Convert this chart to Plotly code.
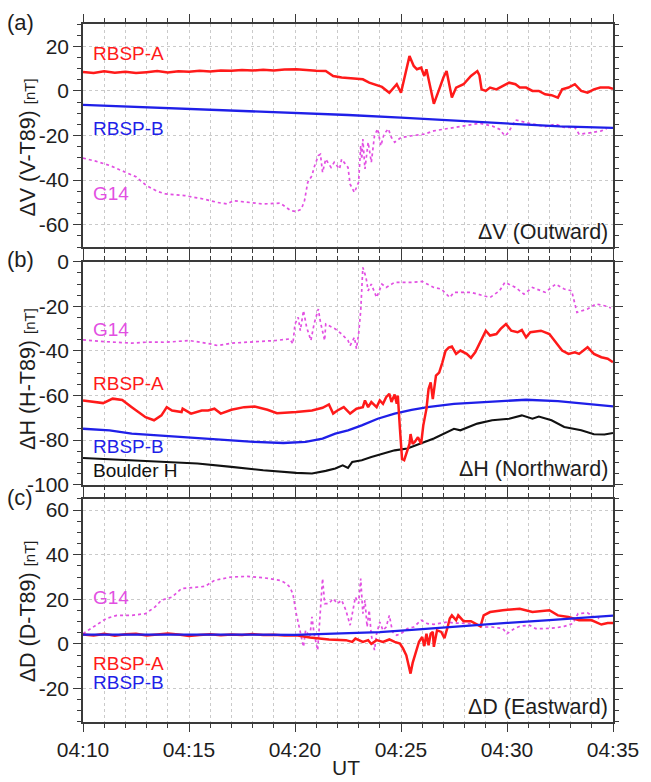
import pandas as pd
import plotly.graph_objects as go

# ---------------- data (minutes after 04:10 UT, nT) ----------------
BASE = "2013-03-17 04:10:00"

a_rbspa = [(0, 8.5), (0.5, 8.0), (1.0, 8.8), (1.5, 8.2), (2.0, 8.6), (2.5, 8.0), (3.0, 8.4), (3.5, 8.9),
           (4.0, 8.3), (4.5, 8.8), (5.0, 8.6), (5.5, 9.0), (6.0, 8.7), (6.5, 9.2), (7.0, 9.0), (7.5, 9.4),
           (8.0, 9.1), (8.5, 9.5), (9.0, 9.2), (9.5, 9.6), (10.06, 9.7), (10.5, 9.3), (11.0, 9.0),
           (11.45, 8.9), (11.8, 6.7), (12.2, 6.0), (12.6, 5.8), (13.2, 5.2), (13.5, 3.7), (14.1, 1.8),
           (14.45, -0.8), (14.8, 3.0), (15.0, -0.8), (15.25, 8.9), (15.4, 15.6), (15.6, 11.2),
           (15.75, 9.7), (15.95, 10.4), (16.1, 6.7), (16.2, 9.7), (16.4, 1.5), (16.55, -5.8),
           (16.8, 0.7), (17.0, 6.0), (17.15, 8.9), (17.25, 4.5), (17.4, -3.0), (17.6, 1.5),
           (17.95, 3.0), (18.3, 6.7), (18.6, 8.9), (18.7, 7.0), (18.8, 0.7), (19.0, 0.0), (19.2, 1.5),
           (19.5, 0.7), (19.8, 2.2), (20.1, 3.7), (20.4, 3.0), (20.6, 1.5), (20.9, 1.5), (21.2, 0.0),
           (21.5, 0.0), (21.8, -1.5), (22.1, -1.9), (22.4, -3.0), (22.6, 0.7), (22.9, 1.5), (23.2, 3.0),
           (23.5, 0.0), (23.8, -0.8), (24.1, 0.7), (24.4, 1.5), (24.8, 1.5), (25.0, 1.0)]

a_rbspb = [(0, -6.3), (2.5, -7.2), (5, -8.0), (7.5, -8.9), (10, -9.8), (12.5, -10.8), (15, -12.0),
           (17.5, -13.4), (20, -14.8), (22.5, -15.9), (25, -16.6)]

a_g14 = [(0, -30.1), (0.6, -31.5), (1.25, -33.4), (2.0, -36.5), (2.5, -38.5), (3.0, -42.5), (3.5, -45.0),
         (3.9, -46.2), (4.4, -46.5), (4.8, -46.9), (5.3, -47.8), (5.7, -48.5), (6.35, -50.0), (6.8, -50.7),
         (7.1, -49.2), (7.75, -50.0), (8.5, -50.7), (9.3, -50.3), (9.8, -53.7), (10.06, -54.1),
         (10.3, -53.0), (10.45, -49.1), (10.6, -41.0), (10.8, -38.0), (10.9, -34.3), (11.1, -29.0),
         (11.2, -28.4), (11.3, -36.5), (11.45, -30.6), (11.7, -34.3), (11.85, -32.0), (12.1, -35.0),
         (12.2, -30.6), (12.5, -34.3), (12.6, -41.8), (12.8, -45.5), (13.0, -41.0), (13.1, -24.6),
         (13.15, -30.6), (13.2, -21.6), (13.3, -35.0), (13.45, -23.0), (13.6, -32.0), (13.75, -20.0),
         (13.9, -17.0), (14.05, -24.6), (14.2, -19.4), (14.4, -17.0), (14.55, -20.9), (14.7, -23.0),
         (15.0, -20.9), (15.5, -20.1), (16.1, -19.4), (16.55, -17.9), (17.0, -17.2), (17.8, -15.7),
         (18.7, -14.5), (19.3, -15.7), (19.65, -17.2), (19.9, -20.1), (20.0, -19.4), (20.2, -16.4),
         (20.4, -13.0), (20.9, -14.2), (21.3, -14.9), (21.8, -16.0), (22.3, -14.9), (22.7, -16.4),
         (23.2, -16.4), (23.4, -19.4), (24.0, -18.7), (24.45, -17.9), (24.7, -16.9)]

b_g14 = [(0, -35.0), (1.0, -35.8), (2.3, -36.5), (3.1, -36.0), (3.9, -36.1), (5.0, -35.3), (6.0, -36.8),
         (6.35, -37.6), (7.0, -36.5), (7.75, -36.1), (8.5, -35.8), (9.1, -35.3), (9.75, -34.6),
         (9.9, -36.8), (10.0, -27.9), (10.15, -24.9), (10.25, -30.9), (10.4, -21.9), (10.55, -29.4),
         (10.75, -35.3), (10.9, -27.9), (11.1, -21.2), (11.2, -27.1), (11.4, -35.3), (11.45, -27.9),
         (11.9, -30.1), (12.2, -32.4), (12.5, -35.3), (12.6, -37.6), (12.8, -33.9), (12.9, -39.0),
         (13.0, -32.4), (13.1, -21.9), (13.15, -10.0), (13.2, -2.5), (13.35, -7.0), (13.45, -13.0),
         (13.6, -10.0), (13.85, -16.0), (14.1, -10.0), (14.3, -11.5), (14.7, -9.2), (15.5, -9.2),
         (16.0, -8.8), (16.55, -11.5), (16.9, -12.2), (17.3, -16.0), (17.5, -13.7), (18.3, -13.7),
         (19.2, -16.0), (19.65, -13.0), (19.9, -9.2), (20.1, -10.0), (20.4, -11.5), (20.8, -14.5),
         (21.2, -11.5), (21.8, -13.7), (22.3, -10.0), (22.7, -12.2), (23.05, -13.0), (23.3, -22.7),
         (23.8, -21.2), (24.2, -18.9), (24.6, -19.7), (24.9, -20.7)]

b_rbspa = [(0, -62.2), (0.5, -63.0), (0.95, -63.4), (1.4, -61.4), (1.85, -62.0), (2.3, -65.2), (2.95, -69.7),
           (3.35, -71.1), (3.7, -68.9), (3.95, -65.2), (4.2, -66.7), (4.65, -67.4), (4.7, -65.9),
           (5.1, -68.1), (5.6, -66.7), (5.9, -66.7), (6.2, -65.9), (6.5, -68.1), (7.0, -66.4), (7.6, -65.2),
           (8.1, -64.9), (8.7, -66.4), (9.15, -67.9), (10.06, -67.4), (10.8, -66.7), (11.3, -65.5),
           (11.6, -64.0), (11.8, -68.1), (12.0, -66.7), (12.3, -65.2), (12.6, -68.1), (12.9, -65.9),
           (13.2, -65.2), (13.3, -62.2), (13.45, -65.2), (13.6, -62.9), (13.85, -65.2), (14.0, -62.2),
           (14.15, -63.7), (14.3, -60.7), (14.45, -59.2), (14.55, -62.9), (14.7, -59.5), (14.8, -63.7),
           (14.85, -60.0), (14.95, -75.0), (15.05, -88.5), (15.15, -89.0), (15.3, -84.0), (15.4, -81.7),
           (15.45, -77.3), (15.55, -81.7), (15.65, -80.8), (15.8, -78.7), (15.95, -81.7), (16.05, -73.5),
           (16.2, -66.0), (16.3, -57.1), (16.4, -54.1), (16.5, -61.6), (16.65, -51.1), (16.8, -49.7),
           (16.95, -45.2), (17.1, -40.0), (17.25, -38.5), (17.4, -38.0), (17.6, -41.3), (17.8, -39.8),
           (18.1, -41.3), (18.3, -43.1), (18.5, -40.6), (18.7, -36.8), (19.0, -30.9), (19.2, -33.1),
           (19.5, -32.4), (19.7, -30.1), (19.95, -27.9), (20.2, -30.9), (20.5, -31.6), (20.7, -30.6),
           (20.9, -33.9), (21.1, -31.6), (21.6, -30.9), (22.0, -32.4), (22.3, -36.1), (22.6, -39.8),
           (22.9, -41.3), (23.2, -40.6), (23.4, -41.3), (23.8, -38.3), (24.1, -41.3), (24.45, -42.8),
           (24.75, -43.5), (25.0, -45.0)]

b_rbspb = [(0, -74.9), (1.25, -75.6), (2.3, -77.1), (3.9, -78.2), (5.4, -79.0), (7.0, -80.1), (8.05, -80.8),
           (9.45, -81.3), (10.5, -80.8), (11.3, -79.3), (11.9, -77.1), (12.5, -75.6), (13.15, -73.4),
           (13.9, -70.4), (14.7, -68.1), (15.5, -66.4), (16.25, -65.2), (17.5, -63.7), (19.3, -62.9),
           (20.9, -61.9), (22.4, -62.5), (24.0, -64.0), (25.0, -64.9)]

b_boulder = [(0, -88.0), (2.3, -89.0), (3.9, -89.8), (5.4, -90.5), (7.0, -92.0), (8.5, -93.5), (10.06, -94.7),
             (10.8, -95.0), (11.45, -93.8), (11.9, -92.7), (12.25, -91.3), (12.5, -92.5), (12.7, -89.8),
             (13.15, -89.0), (13.6, -87.6), (14.25, -85.8), (14.7, -84.6), (15.3, -83.8), (15.9, -81.6),
             (16.55, -79.3), (17.5, -74.9), (17.8, -75.6), (18.6, -72.6), (19.3, -71.1), (20.1, -70.4),
             (20.7, -68.9), (21.2, -70.4), (21.5, -69.4), (22.1, -71.1), (22.7, -74.1), (23.5, -75.6),
             (24.1, -77.4), (24.6, -77.5), (25.0, -76.8)]

c_rbspa = [(0, 4.2), (0.5, 3.8), (1.0, 4.5), (1.5, 3.7), (2.0, 4.3), (2.5, 4.6), (3.0, 3.8), (3.5, 4.1),
           (4.0, 4.7), (4.5, 4.2), (5.0, 3.6), (5.5, 4.0), (6.0, 4.3), (6.5, 3.9), (7.0, 4.2), (7.5, 4.0),
           (8.0, 4.4), (8.5, 4.0), (9.0, 4.1), (9.5, 3.8), (10.06, 3.9), (10.7, 2.9), (11.6, 2.0),
           (12.4, 1.7), (12.7, 0.9), (12.85, 2.4), (13.2, 0.9), (13.45, 1.7), (13.6, 0.0), (13.85, 1.7),
           (14.15, 0.9), (14.45, 2.0), (14.7, 0.9), (14.95, 0.2), (15.1, -2.1), (15.25, -5.1), (15.35, -9.5),
           (15.45, -13.3), (15.55, -8.5), (15.7, -3.5), (15.85, 1.0), (16.0, 3.1), (16.1, -1.0), (16.2, 4.6),
           (16.3, -0.6), (16.4, 4.6), (16.5, 5.4), (16.55, -1.3), (16.7, 6.1), (16.9, 5.4), (17.05, 2.6),
           (17.2, 7.6), (17.3, 11.4), (17.4, 12.8), (17.6, 10.6), (17.7, 12.8), (17.95, 10.2), (18.3, 10.2),
           (18.6, 8.4), (18.75, 7.9), (18.9, 12.8), (19.2, 14.3), (19.8, 15.1), (20.6, 15.8), (21.2, 14.3),
           (22.0, 15.1), (22.4, 12.8), (22.9, 12.1), (23.4, 10.6), (24.0, 10.6), (24.45, 8.7), (24.75, 9.4),
           (25.0, 9.4)]

c_rbspb = [(0, 4.2), (2.5, 4.3), (5, 4.2), (7.5, 4.2), (10, 4.1), (12, 4.6), (14, 5.3), (16, 6.6), (18, 8.1),
           (20, 9.4), (22, 10.7), (24, 12.0), (25, 12.7)]

c_g14 = [(0, 4.6), (0.65, 8.4), (1.1, 11.4), (1.6, 12.8), (2.3, 12.8), (2.95, 13.6), (3.4, 16.6), (3.7, 19.6),
         (4.2, 21.0), (4.65, 24.8), (5.3, 25.2), (5.75, 25.8), (6.2, 28.5), (7.0, 30.0), (7.75, 30.3),
         (8.5, 29.7), (9.3, 28.5), (9.6, 27.0), (9.75, 25.5), (9.9, 22.5), (10.06, 13.6), (10.2, 7.6),
         (10.4, -1.3), (10.5, 6.1), (10.7, 3.1), (10.8, 12.1), (10.9, 4.6), (11.07, -2.8), (11.2, 16.6),
         (11.3, 29.3), (11.4, 18.1), (11.6, 18.1), (11.8, 20.3), (12.0, 18.1), (12.2, 19.6), (12.4, 15.1),
         (12.6, 8.4), (12.7, 13.6), (12.85, 21.0), (13.0, 18.1), (13.1, 29.3), (13.2, 13.6), (13.3, 19.6),
         (13.4, 7.6), (13.5, 15.1), (13.6, 3.9), (13.75, -2.8), (13.85, 4.6), (14.0, 9.8), (14.15, 6.1),
         (14.3, 7.6), (14.45, 12.8), (14.6, 5.4), (14.8, 3.9), (15.0, 4.6), (15.3, 6.9), (15.6, 7.6),
         (15.95, 10.6), (16.25, 9.1), (16.55, 8.8), (16.9, 9.3), (17.2, 9.8), (17.5, 9.4), (18.3, 9.1),
         (18.9, 7.6), (19.3, 7.6), (19.8, 6.9), (20.0, 4.6), (20.35, 6.9), (20.6, 7.9), (21.05, 8.4),
         (21.35, 6.9), (21.8, 6.9), (22.3, 7.2), (22.7, 7.9), (23.1, 9.1), (23.35, 13.6), (23.8, 13.9),
         (24.1, 12.1), (24.35, 11.4)]

a_ticks = [20, 0, -20, -40, -60]
b_ticks = [0, -20, -40, -60, -80, -100]
c_ticks = [60, 40, 20, 0, -20]

# ---------------- styling ----------------
FONT = "Liberation Sans, Arial, sans-serif"
W, H = 651, 782
ML, MR, MT, MB = 83, 29, 22, 60
RED, BLUE, MAG, BLK = "#ff1a1a", "#1f1fe8", "#e24fe2", "#111111"
AX = "#3a3a3a"
GRID = "#cacaca"
TXT = "#1e1e1e"


def px_x(px):
    return (px - ML) / (W - ML - MR)


def px_y(py):
    return (H - MB - py) / (H - MT - MB)


def to_time(pairs):
    t = pd.Timestamp(BASE) + pd.to_timedelta([p[0] for p in pairs], unit="m")
    return t, [p[1] for p in pairs]


fig = go.Figure()


def add(pairs, color, width, dash, ax):
    x, y = to_time(pairs)
    fig.add_trace(go.Scatter(x=x, y=y, mode="lines", xaxis="x" + ax, yaxis="y" + ax,
                             line=dict(color=color, width=width, dash=dash), showlegend=False,
                             hoverinfo="skip"))


add(a_g14, MAG, 1.7, "dot", "")
add(a_rbspb, BLUE, 2.3, "solid", "")
add(a_rbspa, RED, 2.5, "solid", "")

add(b_g14, MAG, 1.7, "dot", "2")
add(b_boulder, BLK, 2.1, "solid", "2")
add(b_rbspb, BLUE, 2.3, "solid", "2")
add(b_rbspa, RED, 2.5, "solid", "2")

add(c_g14, MAG, 1.7, "dot", "3")
add(c_rbspa, RED, 2.5, "solid", "3")
add(c_rbspb, BLUE, 2.3, "solid", "3")

t0 = pd.Timestamp(BASE)
t1 = t0 + pd.Timedelta(minutes=25)


def xaxis(anchor, labels):
    return dict(type="date", range=[t0, t1], anchor=anchor, domain=[0, 1], tickformat="%H:%M",
                dtick=300000, tick0=t0, showticklabels=labels, ticks="outside", ticklen=8,
                tickwidth=1.3, tickcolor=AX, showline=True, linecolor=AX, linewidth=1.5,
                mirror="ticks", showgrid=True, gridcolor=GRID, griddash="dot", gridwidth=1,
                zeroline=False, tickfont=dict(family=FONT, size=21, color=TXT),
                minor=dict(dtick=60000, tick0=t0, ticks="outside", ticklen=4, tickwidth=1.1,
                           tickcolor=AX, showgrid=True, gridcolor=GRID, griddash="dot", gridwidth=1))


def yaxis(anchor, dom, rng, vals):
    return dict(domain=dom, range=rng, anchor=anchor, tickmode="array", tickvals=vals,
                ticktext=[str(v) for v in vals], ticks="outside", ticklen=8, tickwidth=1.3,
                tickcolor=AX, showline=True, linecolor=AX, linewidth=1.5, mirror="ticks",
                showgrid=True, gridcolor=GRID, griddash="dot", gridwidth=1, zeroline=False,
                tickfont=dict(family=FONT, size=21, color=TXT),
                minor=dict(tickmode="linear", tick0=0, dtick=5, ticks="outside", ticklen=4,
                           tickwidth=1.1, tickcolor=AX, showgrid=False))


dom_a = [px_y(245.7), 1.0]
dom_b = [px_y(484.0), px_y(260.5)]
dom_c = [0.0, px_y(498.3)]

fig.update_layout(
    width=W, height=H, margin=dict(l=ML, r=MR, t=MT, b=MB),
    paper_bgcolor="white", plot_bgcolor="white",
    font=dict(family=FONT, color=TXT),
    xaxis=xaxis("y", False), xaxis2=xaxis("y2", False), xaxis3=xaxis("y3", True),
    yaxis=yaxis("x", dom_a, [-70, 30], a_ticks),
    yaxis2=yaxis("x2", dom_b, [-100, 0], b_ticks),
    yaxis3=yaxis("x3", dom_c, [-35, 65], c_ticks),
)

ann = []


def label(text, px, py, color, size=19, xanchor="left"):
    ann.append(dict(text=text, x=px_x(px), y=px_y(py), xref="paper", yref="paper", showarrow=False,
                    xanchor=xanchor, yanchor="middle", font=dict(family=FONT, size=size, color=color)))


label("RBSP-A", 91, 52, RED)
label("RBSP-B", 91, 127, BLUE)
label("G14", 91, 192, MAG)
label("ΔV (Outward)", 619, 231, TXT, 21.5, "right")

label("G14", 91, 328, MAG)
label("RBSP-A", 91, 383, RED)
label("RBSP-B", 91, 446, BLUE)
label("Boulder H", 91, 470, BLK)
label("ΔH (Northward)", 619, 468, TXT, 21.5, "right")

label("G14", 91, 597, MAG)
label("RBSP-A", 91, 663, RED)
label("RBSP-B", 91, 682, BLUE)
label("ΔD (Eastward)", 619, 707, TXT, 21.5, "right")

label("(a)", 4, 20, TXT, 22)
label("(b)", 4, 258, TXT, 22)
label("(c)", 4, 497, TXT, 22)

label("UT", 350, 768, TXT, 21, "center")

for txt, cy in [("ΔV (V-T89)", 146), ("ΔH (H-T89)", 378), ("ΔD (D-T89)", 611)]:
    ann.append(dict(text=txt + " <span style='font-size:15px'>[nT]</span>", x=px_x(27), y=px_y(cy),
                    xref="paper", yref="paper", showarrow=False, textangle=-90,
                    xanchor="center", yanchor="middle", font=dict(family=FONT, size=21.5, color=TXT)))

fig.update_layout(annotations=ann)
fig.write_html("out.html")
